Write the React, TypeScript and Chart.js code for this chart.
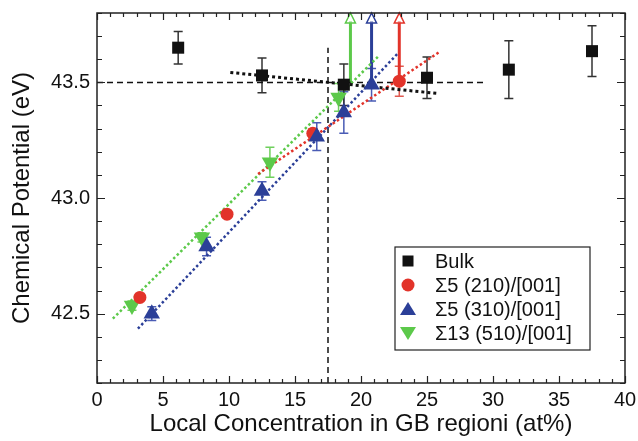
import React, { useEffect, useRef } from 'react';
import { Chart, registerables } from 'chart.js';
Chart.register(...registerables);

// ---- data ----
const bulkX = [6.15, 12.5, 18.7, 25.0, 31.2, 37.5];
const bulkY = [43.65, 43.53, 43.49, 43.52, 43.555, 43.635];
const bulkErr = [0.07, 0.075, 0.09, 0.09, 0.125, 0.11];

const s210X = [3.25, 9.85, 16.35, 22.9];
const s210Y = [42.57, 42.93, 43.28, 43.505];
const s210Err = [0, 0, 0.02, 0.065];

const s310X = [4.15, 8.3, 12.5, 16.65, 18.7, 20.8];
const s310Y = [42.5, 42.79, 43.03, 43.265, 43.37, 43.49];
const s310Err = [0.03, 0.04, 0.04, 0.06, 0.09, 0.07];

const s510X = [2.65, 7.95, 13.1, 18.3];
const s510Y = [42.535, 42.83, 43.155, 43.435];
const s510Err = [0.02, 0.02, 0.065, 0.06];

const fitBulkX = [10.1, 25.8];
const fitBulkY = [43.543, 43.452];
const fit210X = [12.2, 25.9];
const fit210Y = [43.104, 43.63];
const fit310X = [3.1, 22.8];
const fit310Y = [42.435, 43.626];
const fit510X = [1.2, 21.4];
const fit510Y = [42.478, 43.617];

const hRefX = [0, 29.4];
const hRefY = [43.5, 43.5];
const vRefX = [17.5, 17.5];
const vRefY = [42.2, 43.65];

const arrowX = [19.2, 20.8, 22.9];
const arrowFrom = [43.5, 43.49, 43.5];

const xTicks = [0, 5, 10, 15, 20, 25, 30, 35, 40];
const yTicks = [42.5, 43.0, 43.5];
const xMin = 0, xMax = 40, yMin = 42.2, yMax = 43.8;

const labels = ['Bulk', 'Σ5 (210)/[001]', 'Σ5 (310)/[001]', 'Σ13 (510)/[001]'];

const BLACK = '#111111';
const RED = '#e2332a';
const BLUE = '#2b3f98';
const GREEN = '#5cc94a';
const arrowColors = [GREEN, BLUE, RED];

const FONT = '"Liberation Sans", Arial, Helvetica, sans-serif';

const pts = (xs: number[], ys: number[]) => xs.map((x, i) => ({ x, y: ys[i] }));

const zeroPad = (s: any) => {
  s.paddingTop = 0; s.paddingBottom = 0; s.paddingLeft = 0; s.paddingRight = 0;
};

const overlay = {
  id: 'overlay',
  beforeDatasetsDraw(chart: any) {
    const { ctx, scales } = chart;
    const sx = scales.x, sy = scales.y;
    ctx.save();
    chart.data.datasets.forEach((ds: any) => {
      if (!ds.err) return;
      ctx.strokeStyle = ds.errColor;
      ctx.lineWidth = 1.5;
      ds.data.forEach((p: any, i: number) => {
        const e = ds.err[i];
        if (!e) return;
        const px = sx.getPixelForValue(p.x);
        const t = sy.getPixelForValue(p.y + e);
        const b = sy.getPixelForValue(p.y - e);
        ctx.beginPath();
        ctx.moveTo(px, t); ctx.lineTo(px, b);
        ctx.moveTo(px - 4.5, t); ctx.lineTo(px + 4.5, t);
        ctx.moveTo(px - 4.5, b); ctx.lineTo(px + 4.5, b);
        ctx.stroke();
      });
    });
    arrowX.forEach((ax, i) => {
      const px = sx.getPixelForValue(ax);
      const p0 = sy.getPixelForValue(arrowFrom[i]);
      const top = sy.getPixelForValue(yMax);
      ctx.strokeStyle = arrowColors[i];
      ctx.lineWidth = 3;
      ctx.beginPath();
      ctx.moveTo(px, p0); ctx.lineTo(px, top + 8);
      ctx.stroke();
      ctx.beginPath();
      ctx.moveTo(px, top);
      ctx.lineTo(px - 5, top + 10);
      ctx.lineTo(px + 5, top + 10);
      ctx.closePath();
      ctx.fillStyle = 'rgba(255,255,255,0.6)';
      ctx.fill();
      ctx.lineWidth = 1.5;
      ctx.stroke();
    });
    ctx.restore();
  },
  afterDraw(chart: any) {
    const { ctx, chartArea: a, scales } = chart;
    const sx = scales.x, sy = scales.y;
    ctx.save();
    ctx.strokeStyle = '#222';
    ctx.lineWidth = 1.5;
    ctx.strokeRect(a.left, a.top, a.right - a.left, a.bottom - a.top);
    ctx.lineWidth = 1.2;
    ctx.beginPath();
    for (let v = xMin; v <= xMax + 1e-9; v += 1) {
      const px = Math.round(sx.getPixelForValue(v)) + 0.5;
      const len = Math.abs(v % 5) < 1e-6 ? 7 : 4;
      ctx.moveTo(px, a.bottom); ctx.lineTo(px, a.bottom - len);
      ctx.moveTo(px, a.top); ctx.lineTo(px, a.top + len);
    }
    for (let k = 0; k <= 16; k++) {
      const v = yMin + k * 0.1;
      const py = Math.round(sy.getPixelForValue(v)) + 0.5;
      const m = Math.round(v * 10) % 5;
      const len = m === 0 ? 8 : 5;
      ctx.moveTo(a.left, py); ctx.lineTo(a.left + len, py);
      ctx.moveTo(a.right, py); ctx.lineTo(a.right - len, py);
    }
    ctx.stroke();

    // legend
    const lx = a.left + 298, ly = a.top + 234, lw = 195, lh = 103;
    ctx.fillStyle = '#fff';
    ctx.fillRect(lx, ly, lw, lh);
    ctx.strokeStyle = '#222';
    ctx.lineWidth = 1.2;
    ctx.strokeRect(lx, ly, lw, lh);
    ctx.font = `20px ${FONT}`;
    ctx.textBaseline = 'middle';
    ctx.textAlign = 'left';
    labels.forEach((lab, i) => {
      const ds: any = chart.data.datasets.find((d: any) => d.label === lab);
      if (!ds) return;
      const cy = ly + 14 + i * 24;
      const cx = lx + 13;
      ctx.fillStyle = ds.backgroundColor;
      ctx.beginPath();
      if (ds.pointStyle === 'rect') {
        ctx.rect(cx - 5.5, cy - 5.5, 11, 11);
      } else if (ds.pointStyle === 'circle') {
        ctx.arc(cx, cy, 6.5, 0, Math.PI * 2);
      } else if (ds.pointRotation === 180) {
        ctx.moveTo(cx - 8, cy - 6); ctx.lineTo(cx + 8, cy - 6); ctx.lineTo(cx, cy + 7);
      } else {
        ctx.moveTo(cx - 8, cy + 6); ctx.lineTo(cx + 8, cy + 6); ctx.lineTo(cx, cy - 7);
      }
      ctx.closePath();
      ctx.fill();
      ctx.fillStyle = '#111';
      ctx.fillText(ds.label, lx + 40, cy + 1);
    });
    ctx.restore();
  },
};

export default function App() {
  const ref = useRef<HTMLCanvasElement | null>(null);
  useEffect(() => {
    if (!ref.current) return;
    const marker = (label: string, xs: number[], ys: number[], err: number[], color: string, errColor: string, style: string, r: number, rot = 0) => ({
      label, data: pts(xs, ys), err, errColor,
      backgroundColor: color, borderColor: color, borderWidth: 0,
      pointStyle: style, pointRadius: r, pointRotation: rot, showLine: false, order: 0,
    });
    const fit = (xs: number[], ys: number[], color: string, w: number, dash: number[]) => ({
      label: '', data: pts(xs, ys), showLine: true, pointRadius: 0,
      borderColor: color, borderWidth: w, borderDash: dash, backgroundColor: color, order: 5,
    });
    const chart = new Chart(ref.current, {
      type: 'scatter',
      data: {
        datasets: [
          marker(labels[2], s310X, s310Y, s310Err, BLUE, '#4a5cb5', 'triangle', 9.5),
          marker(labels[1], s210X, s210Y, s210Err, RED, '#e05a50', 'circle', 6.5),
          marker(labels[3], s510X, s510Y, s510Err, GREEN, '#6fd05c', 'triangle', 9.5, 180),
          marker(labels[0], bulkX, bulkY, bulkErr, BLACK, '#333', 'rect', 8.5),
          fit(fitBulkX, fitBulkY, BLACK, 3, [3, 3]),
          fit(fit210X, fit210Y, RED, 2.5, [2.5, 2.5]),
          fit(fit310X, fit310Y, BLUE, 2.5, [2.5, 2.5]),
          fit(fit510X, fit510Y, GREEN, 2.5, [2.5, 2.5]),
          fit(hRefX, hRefY, BLACK, 1.5, [6, 4]),
          fit(vRefX, vRefY, BLACK, 1.5, [6, 4]),
        ] as any,
      },
      options: {
        animation: false,
        responsive: false,
        devicePixelRatio: 1,
        layout: { padding: { top: 13, right: 13, left: 0, bottom: 0 } },
        plugins: { legend: { display: false }, tooltip: { enabled: false } },
        scales: {
          x: {
            type: 'linear', min: xMin, max: xMax,
            afterBuildTicks: (s: any) => { s.ticks = xTicks.map((v) => ({ value: v })); },
            afterFit: (s: any) => { s.height = 58; zeroPad(s); },
            grid: { display: false, drawTicks: false },
            border: { display: false },
            ticks: { color: '#111', font: { family: FONT, size: 20 }, padding: 5, maxRotation: 0, autoSkip: false },
            title: { display: true, text: 'Local Concentration in GB regioni (at%)', color: '#111', font: { family: FONT, size: 24 }, padding: { top: 0, bottom: 2 } },
          },
          y: {
            type: 'linear', min: yMin, max: yMax,
            afterBuildTicks: (s: any) => { s.ticks = yTicks.map((v) => ({ value: v })); },
            afterFit: (s: any) => { s.width = 97; zeroPad(s); },
            grid: { display: false, drawTicks: false },
            border: { display: false },
            ticks: { color: '#111', font: { family: FONT, size: 20 }, padding: 7, callback: (v: any) => Number(v).toFixed(1) },
            title: { display: true, text: 'Chemical Potential (eV)', color: '#111', font: { family: FONT, size: 24 }, padding: { top: 8, bottom: 0 } },
          },
        },
      } as any,
      plugins: [overlay],
    });
    return () => chart.destroy();
  }, []);
  return (
    <div style={{ position: 'absolute', left: 0, top: 0, width: 638, height: 441 }}>
      <canvas ref={ref} width={638} height={441} />
    </div>
  );
}
